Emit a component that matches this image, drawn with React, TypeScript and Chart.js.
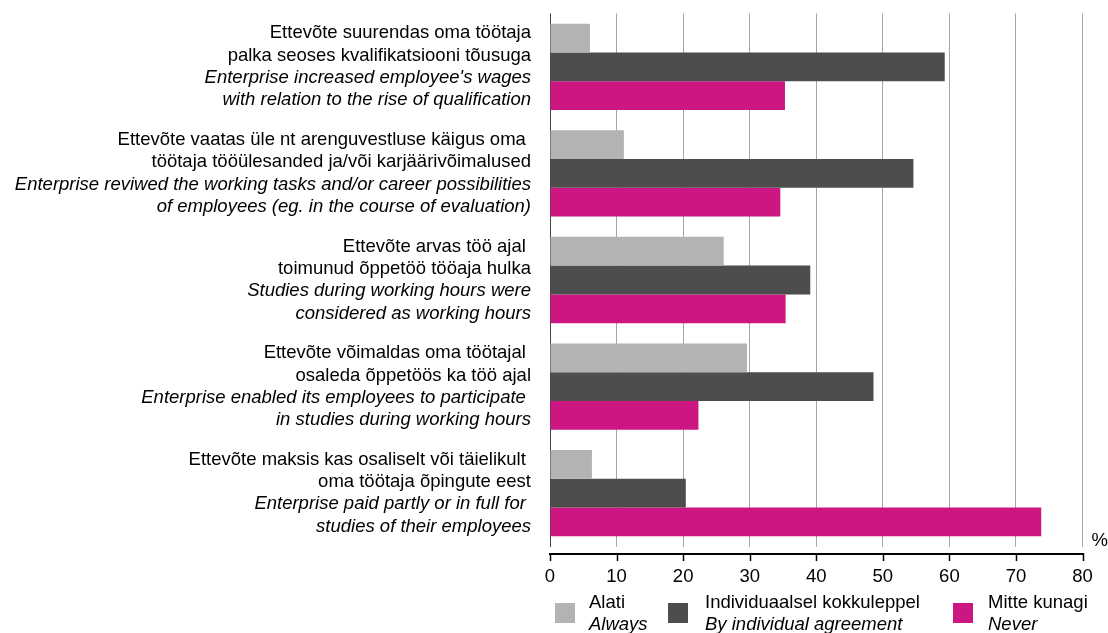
import React, { useEffect, useRef } from "react";
import { Chart, registerables } from "chart.js";

Chart.register(...registerables);

// ---------- data ----------
const categoriesEt: string[][] = [
  ["Ettevõte suurendas oma töötaja", "palka seoses kvalifikatsiooni tõusuga"],
  ["Ettevõte vaatas üle nt arenguvestluse käigus oma ", "töötaja tööülesanded ja/või karjäärivõimalused"],
  ["Ettevõte arvas töö ajal ", "toimunud õppetöö tööaja hulka"],
  ["Ettevõte võimaldas oma töötajal ", "osaleda õppetöös ka töö ajal"],
  ["Ettevõte maksis kas osaliselt või täielikult ", "oma töötaja õpingute eest"],
];
const categoriesEn: string[][] = [
  ["Enterprise increased employee's wages", "with relation to the rise of qualification"],
  ["Enterprise reviwed the working tasks and/or career possibilities", "of employees (eg. in the course of evaluation)"],
  ["Studies during working hours were", "considered as working hours"],
  ["Enterprise enabled its employees to participate ", "in studies during working hours"],
  ["Enterprise paid partly or in full for ", "studies of their employees"],
];
const seriesEt = ["Alati", "Individuaalsel kokkuleppel", "Mitte kunagi"];
const seriesEn = ["Always", "By individual agreement", "Never"];
const alwaysValues = [6.0, 11.1, 26.1, 29.6, 6.3];
const agreementValues = [59.3, 54.6, 39.1, 48.6, 20.4];
const neverValues = [35.3, 34.6, 35.4, 22.3, 73.8];
const xMin = 0;
const xMax = 80;
const xStep = 10;
const unitLabel = "%";

// ---------- styles ----------
const COLORS = ["#b3b3b3", "#4d4d4d", "#cc1782"];
const FONT = '"Liberation Sans", Arial, sans-serif';
const FONT_SIZE = 18.5;
const LINE_GAP = 22.3;

const labelsPlugin = {
  id: "customDecor",
  afterDraw(chart: any) {
    const { ctx, chartArea } = chart;
    const y = chart.scales.y;
    const x = chart.scales.x;
    ctx.save();
    // category labels
    ctx.fillStyle = "#000";
    ctx.textAlign = "right";
    ctx.textBaseline = "middle";
    const rightX = chartArea.left - 19;
    categoriesEt.forEach((et, i) => {
      const cy = y.getPixelForValue(i);
      const lines = [
        { t: et[0], it: false },
        { t: et[1], it: false },
        { t: categoriesEn[i][0], it: true },
        { t: categoriesEn[i][1], it: true },
      ];
      lines.forEach((ln, k) => {
        ctx.font = `${ln.it ? "italic " : ""}${FONT_SIZE}px ${FONT}`;
        ctx.fillText(ln.t, rightX, cy + (k - 1.5) * LINE_GAP);
      });
    });
    // bottom axis line + ticks
    const axisY = chartArea.bottom + 7.5;
    ctx.strokeStyle = "#000";
    ctx.lineWidth = 2;
    ctx.beginPath();
    ctx.moveTo(x.getPixelForValue(xMin) - 1, axisY);
    ctx.lineTo(x.getPixelForValue(xMax) + 1, axisY);
    ctx.stroke();
    ctx.lineWidth = 1.5;
    x.ticks.forEach((t: any) => {
      const px = Math.round(x.getPixelForValue(t.value)) + 0.5;
      ctx.beginPath();
      ctx.moveTo(px, axisY - 1);
      ctx.lineTo(px, axisY + 7);
      ctx.stroke();
    });
    // unit label
    ctx.font = `${FONT_SIZE}px ${FONT}`;
    ctx.textAlign = "left";
    ctx.textBaseline = "middle";
    ctx.fillText(unitLabel, chartArea.right + 9, chartArea.bottom - 6);
    ctx.restore();
  },
};

export default function App() {
  const canvasRef = useRef<HTMLCanvasElement | null>(null);

  useEffect(() => {
    if (!canvasRef.current) return;
    const chart = new Chart(canvasRef.current, {
      type: "bar",
      data: {
        labels: categoriesEt.map((c) => c.join(" ")),
        datasets: [
          { label: seriesEt[0], data: alwaysValues, backgroundColor: COLORS[0] },
          { label: seriesEt[1], data: agreementValues, backgroundColor: COLORS[1] },
          { label: seriesEt[2], data: neverValues, backgroundColor: COLORS[2] },
        ],
      },
      options: {
        indexAxis: "y",
        animation: false,
        responsive: true,
        maintainAspectRatio: false,
        layout: { padding: { left: 550, right: 25.5, top: 13.5, bottom: 0 } },
        datasets: { bar: { categoryPercentage: 0.81, barPercentage: 1, borderWidth: 0 } },
        plugins: {
          legend: { display: false },
          tooltip: { enabled: false },
          title: { display: false },
        },
        scales: {
          x: {
            type: "linear",
            min: xMin,
            max: xMax,
            ticks: {
              stepSize: xStep,
              padding: 19,
              color: "#000",
              font: { family: FONT, size: FONT_SIZE },
              maxRotation: 0,
            },
            grid: {
              drawTicks: false,
              color: (c: any) => (c.tick && c.tick.value === 0 ? "#444" : "#a6a6a6"),
              lineWidth: 1,
            },
            border: { display: false },
            afterFit: (scale: any) => {
              scale.height = 86.5;
              scale.paddingLeft = 0;
              scale.paddingRight = 0;
            },
          },
          y: {
            type: "category",
            display: false,
            grid: { display: false },
          },
        },
      },
      plugins: [labelsPlugin],
    });
    return () => chart.destroy();
  }, []);

  const legendPos = [
    { box: 555, text: 589 },
    { box: 668, text: 705 },
    { box: 953, text: 988 },
  ];

  return (
    <div style={{ position: "absolute", left: 0, top: 0, width: 1108, height: 633, overflow: "hidden", background: "#fff" }}>
      <canvas ref={canvasRef} />
      {seriesEt.map((s, i) => (
        <React.Fragment key={s}>
          <div
            style={{
              position: "absolute",
              left: legendPos[i].box,
              top: 603,
              width: 20,
              height: 20,
              background: COLORS[i],
            }}
          />
          <div
            style={{
              position: "absolute",
              left: legendPos[i].text,
              top: 591,
              fontFamily: FONT,
              fontSize: FONT_SIZE,
              lineHeight: "22px",
              color: "#000",
              whiteSpace: "nowrap",
            }}
          >
            <div>{s}</div>
            <div style={{ fontStyle: "italic" }}>{seriesEn[i]}</div>
          </div>
        </React.Fragment>
      ))}
    </div>
  );
}
